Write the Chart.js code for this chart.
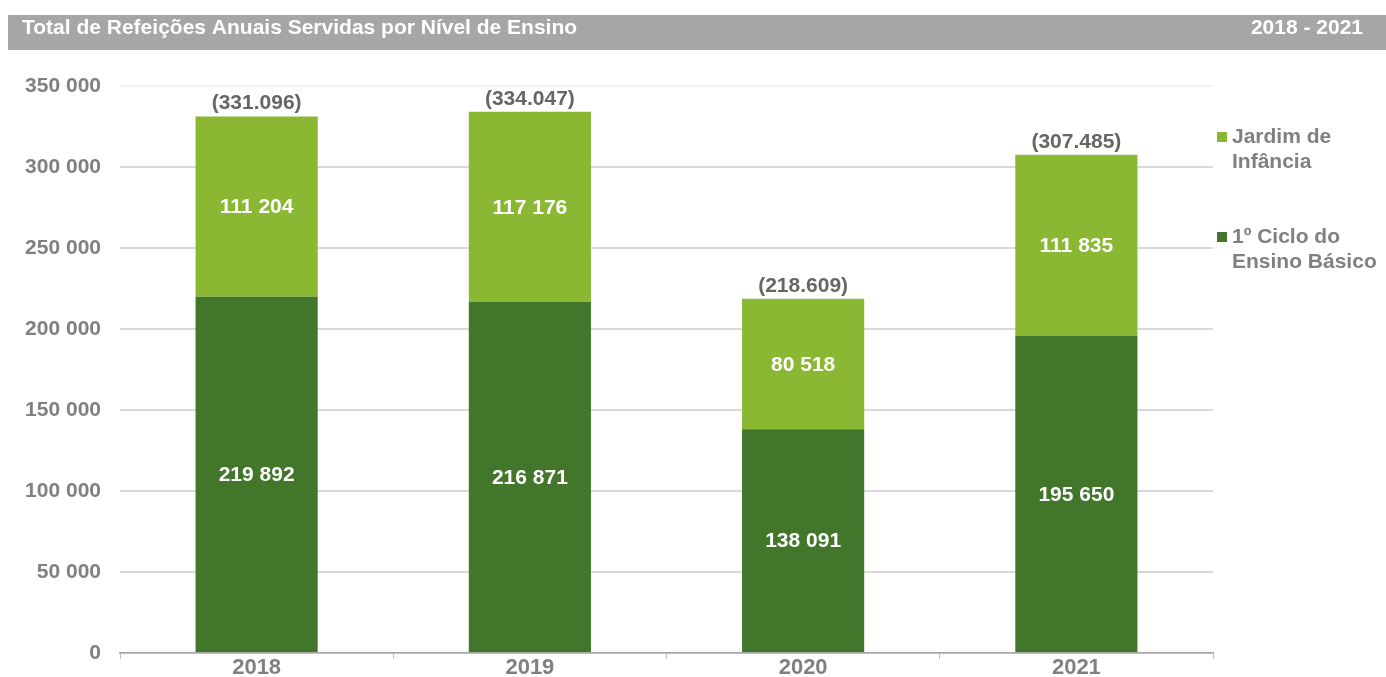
<!DOCTYPE html>
<html>
<head>
<meta charset="utf-8">
<script src="https://cdn.jsdelivr.net/npm/chart.js@4.4.1/dist/chart.umd.min.js"></script>
<style>
  html, body { margin: 0; padding: 0; background: #fff; overflow: hidden; }
  canvas { display: block; }
</style>
</head>
<body>
<canvas id="refeicoes" width="1386" height="677"></canvas>
<script>
const anos = ["2018", "2019", "2020", "2021"]
const primeiroCiclo = [219892, 216871, 138091, 195650]
const jardimInfancia = [111204, 117176, 80518, 111835]
const totais = [331096, 334047, 218609, 307485]
const yTicks = [0, 50000, 100000, 150000, 200000, 250000, 300000, 350000]

const corJardim = "#8ab833"
const corCiclo = "#41762b"
const cinza = "#808080"
const fonte = "'Liberation Sans', Arial, sans-serif"

// espaço como separador de milhares: 219892 -> "219 892"
function fmtEspaco(v) {
    return v.toString().replace(/\B(?=(\d{3})+(?!\d))/g, " ")
}
function fmtTotal(v) {
    return "(" + v.toString().replace(/\B(?=(\d{3})+(?!\d))/g, ".") + ")"
}

// barra cinzenta do título no topo
const cabecalho = {
    id: "cabecalho",
    beforeDraw(chart) {
        const ctx = chart.ctx
        ctx.save()
        ctx.fillStyle = "#a6a6a6"
        ctx.fillRect(8, 15, chart.width - 8, 35)
        ctx.fillStyle = "#fff"
        ctx.textBaseline = "middle"
        ctx.font = "bold 21px " + fonte
        ctx.textAlign = "left"
        ctx.fillText("Total de Refeições Anuais Servidas por Nível de Ensino", 22, 28)
        ctx.textAlign = "right"
        ctx.fillText("2018 - 2021", 1363, 28)
        ctx.restore()
    }
}

// valores dentro das barras e totais por cima
const rotulos = {
    id: "rotulos",
    afterDatasetsDraw(chart) {
        const ctx = chart.ctx
        ctx.save()
        ctx.textAlign = "center"
        ctx.textBaseline = "middle"
        ctx.font = "bold 21px " + fonte
        chart.data.datasets.forEach((ds, i) => {
            chart.getDatasetMeta(i).data.forEach((bar, j) => {
                ctx.fillStyle = "#fff"
                ctx.fillText(fmtEspaco(ds.data[j]), bar.x, (bar.y + bar.base) / 2 + 1)
            })
        })
        const topo = chart.getDatasetMeta(1).data
        const y = chart.scales.y
        ctx.fillStyle = "#666"
        totais.forEach((t, j) => {
            ctx.fillText(fmtTotal(t), topo[j].x, y.getPixelForValue(t) - 13)
        })
        ctx.restore()
    }
}

// legenda à direita, texto em duas linhas
const legenda = {
    id: "legenda",
    afterDraw(chart) {
        const ctx = chart.ctx
        const itens = [
            { cor: corJardim, linhas: ["Jardim de", "Infância"], y: 137 },
            { cor: corCiclo, linhas: ["1º Ciclo do", "Ensino Básico"], y: 237 }
        ]
        ctx.save()
        ctx.font = "bold 21px " + fonte
        ctx.textBaseline = "middle"
        ctx.textAlign = "left"
        itens.forEach((it) => {
            ctx.fillStyle = it.cor
            ctx.fillRect(1217, it.y - 5, 10, 10)
            ctx.fillStyle = cinza
            it.linhas.forEach((l, k) => ctx.fillText(l, 1232, it.y + k * 25.5))
        })
        ctx.restore()
    }
}

new Chart(document.getElementById("refeicoes"), {
    type: "bar",
    data: {
        labels: anos,
        datasets: [
            { label: "1º Ciclo do Ensino Básico", data: primeiroCiclo, backgroundColor: corCiclo },
            { label: "Jardim de Infância", data: jardimInfancia, backgroundColor: corJardim }
        ]
    },
    options: {
        responsive: false,
        animation: false,
        layout: { padding: { left: 0, right: 173, top: 86, bottom: 0 } },
        datasets: { bar: { categoryPercentage: 1, barPercentage: 0.447 } },
        plugins: {
            legend: { display: false },
            tooltip: { enabled: false }
        },
        scales: {
            x: {
                stacked: true,
                border: { display: true, color: "#a6a6a6", width: 1.5 },
                grid: {
                    display: true,
                    drawOnChartArea: false,
                    drawTicks: true,
                    tickLength: 6,
                    color: "#bfbfbf",
                    offset: true
                },
                ticks: {
                    color: cinza,
                    padding: -2,
                    font: { family: fonte, size: 22, weight: "bold", lineHeight: 1 }
                }
            },
            y: {
                stacked: true,
                min: 0,
                max: 350000,
                afterFit: (s) => { s.width = 120 },
                afterBuildTicks: (s) => { s.ticks = yTicks.map((v) => ({ value: v })) },
                border: { display: false },
                grid: {
                    // traço invisível só para afastar os rótulos do eixo
                    drawTicks: true,
                    tickLength: 19,
                    tickColor: "rgba(0,0,0,0)",
                    lineWidth: 2,
                    color: (c) => c.tick && c.tick.value === 350000 ? "#f2f2f2" : "#d9d9d9"
                },
                ticks: {
                    color: cinza,
                    padding: 0,
                    font: { family: fonte, size: 21, weight: "bold" },
                    callback: (v) => fmtEspaco(v)
                }
            }
        }
    },
    plugins: [cabecalho, rotulos, legenda]
})
</script>
</body>
</html>
